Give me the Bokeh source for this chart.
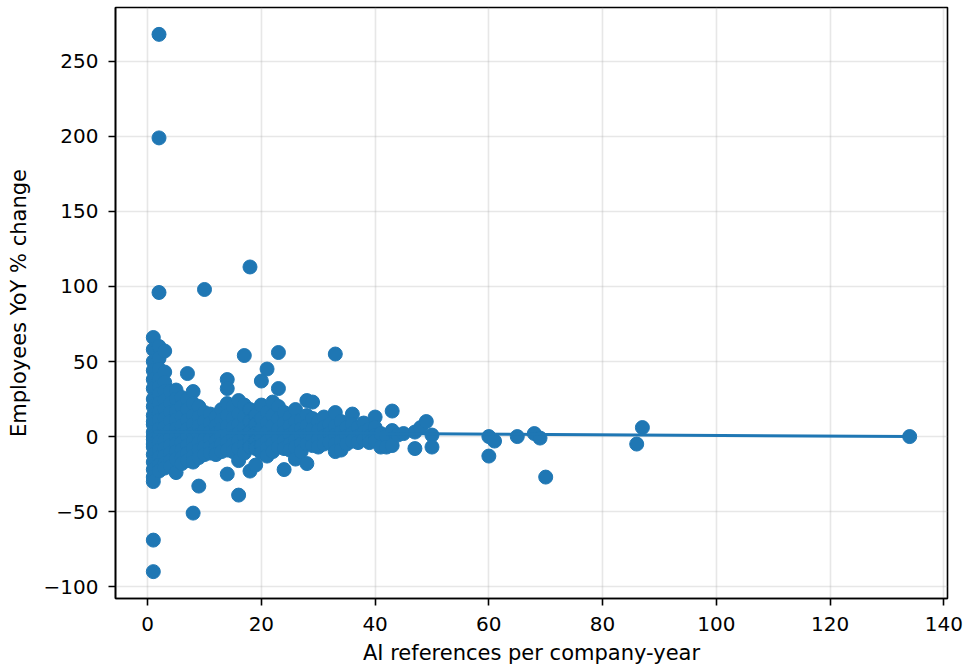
from bokeh.plotting import figure
from bokeh.models import Range1d, FixedTicker
from bokeh.embed import file_html
from bokeh.resources import INLINE

# AI references per company-year (x) and employees YoY % change (y)
ai_refs = [
    1, 1, 1, 1, 1, 1, 1, 1, 1, 1, 1, 1, 1, 1, 1, 1, 1, 1, 1, 1, 1, 1, 1,
    2, 2, 2, 2, 2, 2, 2, 2, 2, 2, 2, 2, 2, 2, 2, 2, 2, 2, 2,
    3, 3, 3, 3, 3, 3, 3, 3, 3, 3, 3, 3, 3, 3,
    4, 4, 4, 4, 4, 4, 4, 4, 4, 4,
    5, 5, 5, 5, 5, 5, 5, 5, 5, 5,
    6, 6, 6, 6, 6, 6, 6, 6, 6,
    7, 7, 7, 7, 7, 7, 7, 7, 7,
    8, 8, 8, 8, 8, 8, 8, 8, 8, 8,
    9, 9, 9, 9, 9, 9, 9, 9,
    10, 10, 10, 10, 10, 10, 10,
    11, 11, 11, 11, 11, 11,
    12, 12, 12, 12, 12, 12,
    13, 13, 13, 13, 13, 13,
    14, 14, 14, 14, 14, 14, 14, 14, 14,
    15, 15, 15, 15, 15, 15,
    16, 16, 16, 16, 16, 16, 16, 16,
    17, 17, 17, 17, 17, 17, 17,
    18, 18, 18, 18, 18, 18, 18,
    19, 19, 19, 19, 19, 19,
    20, 20, 20, 20, 20, 20, 20,
    21, 21, 21, 21, 21, 21, 21,
    22, 22, 22, 22, 22, 22,
    23, 23, 23, 23, 23, 23, 23,
    24, 24, 24, 24, 24, 24,
    25, 25, 25, 25, 25,
    26, 26, 26, 26, 26, 26,
    27, 27, 27, 27, 27,
    28, 28, 28, 28, 28, 28,
    29, 29, 29, 29, 29,
    30, 30, 30, 30,
    31, 31, 31, 31,
    32, 32, 32,
    33, 33, 33, 33, 33, 33,
    34, 34, 34, 34,
    35, 35, 35,
    36, 36, 36, 36,
    37, 37, 37,
    38, 38, 38,
    39, 39, 39,
    40, 40, 40, 40,
    41, 41,
    42, 42,
    43, 43, 43,
    44,
    45,
    47, 47,
    48,
    49,
    50, 50,
    60, 60,
    61,
    65,
    68,
    69,
    70,
    86,
    87,
    134,
]

employees_yoy = [
    66, 58, 50, 44, 38, 32, 25, 20, 14, 10, 8, 3, 0, -2, -5, -7, -12, -17, -22, -27, -30, -69, -90,
    268, 199, 96, 60, 52, 45, 38, 33, 28, 22, 16, 11, 5, 0, -4, -9, -14, -19, -23,
    57, 43, 36, 30, 24, 18, 12, 6, 1, -3, -8, -13, -18, -21,
    30, 22, 16, 10, 4, -1, -6, -11, -16, -20,
    31, 25, 17, 11, 5, 0, -5, -10, -15, -24,
    26, 20, 13, 7, 1, -4, -9, -14, -18,
    42, 25, 18, 11, 5, 0, -6, -11, -16,
    30, 22, 14, 8, 2, -3, -8, -13, -17, -51,
    20, 13, 7, 1, -4, -9, -14, -33,
    98, 16, 10, 4, -2, -7, -12,
    15, 9, 3, -2, -7, -11,
    13, 7, 2, -3, -8, -12,
    18, 11, 5, 0, -5, -10,
    38, 32, 22, 14, 7, 1, -4, -9, -25,
    20, 12, 6, 0, -5, -10,
    24, 15, 8, 2, -3, -8, -16, -39,
    54, 21, 13, 6, 0, -6, -11,
    113, 18, 10, 3, -2, -7, -23,
    14, 8, 2, -3, -8, -19,
    37, 21, 12, 5, -1, -6, -11,
    45, 16, 9, 3, -3, -8, -13,
    23, 14, 7, 0, -5, -10,
    56, 32, 20, 12, 5, -1, -7,
    16, 9, 3, -3, -8, -22,
    13, 7, 1, -5, -9,
    18, 10, 4, -2, -7, -15,
    11, 5, 0, -5, -10,
    24, 14, 7, 1, -5, -18,
    23, 12, 5, -1, -6,
    10, 4, -2, -7,
    13, 6, 0, -5,
    8, 2, -4,
    55, 16, 7, 1, -5, -10,
    10, 3, -3, -9,
    6, 0, -5,
    15, 8, 2, -3,
    6, 0, -4,
    9, 3, -2,
    5, 0, -4,
    13, 6, 1, -3,
    2, -7,
    0, -7,
    17, 4, -6,
    1,
    2,
    3, -8,
    6,
    10,
    1, -7,
    0, -13,
    -3,
    0,
    2,
    -1,
    -27,
    -5,
    6,
    0,
]

assert len(ai_refs) == len(employees_yoy), (len(ai_refs), len(employees_yoy))

# Fitted regression line (intercept, slope)
fit_intercept = 3.0
fit_slope = -0.022

x_ticks = [0, 20, 40, 60, 80, 100, 120, 140]
y_ticks = [-100, -50, 0, 50, 100, 150, 200, 250]

x_label = "AI references per company-year"
y_label = "Employees YoY % change"

BLUE = "#1f77b4"
FONT = "DejaVu Sans"

x_min, x_max = min(ai_refs), max(ai_refs)
y_min, y_max = min(employees_yoy), max(employees_yoy)
xm = (x_max - x_min) * 0.05
ym = (y_max - y_min) * 0.05

p = figure(
    width=963, height=668,
    output_backend="svg", toolbar_location=None,
    x_range=Range1d(x_min - xm, x_max + xm),
    y_range=Range1d(y_min - ym, y_max + ym),
    min_border_left=115, min_border_right=16, min_border_top=7, min_border_bottom=70,
    background_fill_color="white", border_fill_color="white",
)

p.scatter(ai_refs, employees_yoy, size=14, fill_color=BLUE, line_color=BLUE, line_width=1)

line_x = [x_min, x_max]
line_y = [fit_intercept + fit_slope * v for v in line_x]
p.line(line_x, line_y, line_color=BLUE, line_width=3)

p.xaxis.ticker = FixedTicker(ticks=x_ticks)
p.yaxis.ticker = FixedTicker(ticks=y_ticks)
p.yaxis.major_label_overrides = {t: str(t).replace("-", "\u2212") for t in y_ticks if t < 0}

p.xaxis.axis_label = x_label
p.yaxis.axis_label = y_label

for ax in (p.xaxis, p.yaxis):
    ax.axis_label_text_font = FONT
    ax.axis_label_text_font_size = "21px"
    ax.axis_label_text_font_style = "normal"
    ax.axis_label_text_color = "black"
    ax.major_label_text_font = FONT
    ax.major_label_text_font_size = "20px"
    ax.major_label_text_color = "black"
    ax.axis_line_color = "black"
    ax.axis_line_width = 1.6
    ax.major_tick_line_color = "black"
    ax.major_tick_line_width = 1.6
    ax.major_tick_in = 0
    ax.major_tick_out = 7
    ax.minor_tick_line_color = None

p.xaxis.major_label_standoff = 11
p.xaxis.axis_label_standoff = 7
p.yaxis.major_label_standoff = 10
p.yaxis.axis_label_standoff = 10

p.grid.grid_line_color = "#b0b0b0"
p.grid.grid_line_alpha = 0.3
p.grid.grid_line_width = 1.6

p.outline_line_color = "black"
p.outline_line_width = 1.6
p.outline_line_alpha = 1.0

open("out.html", "w").write(file_html(p, INLINE))
